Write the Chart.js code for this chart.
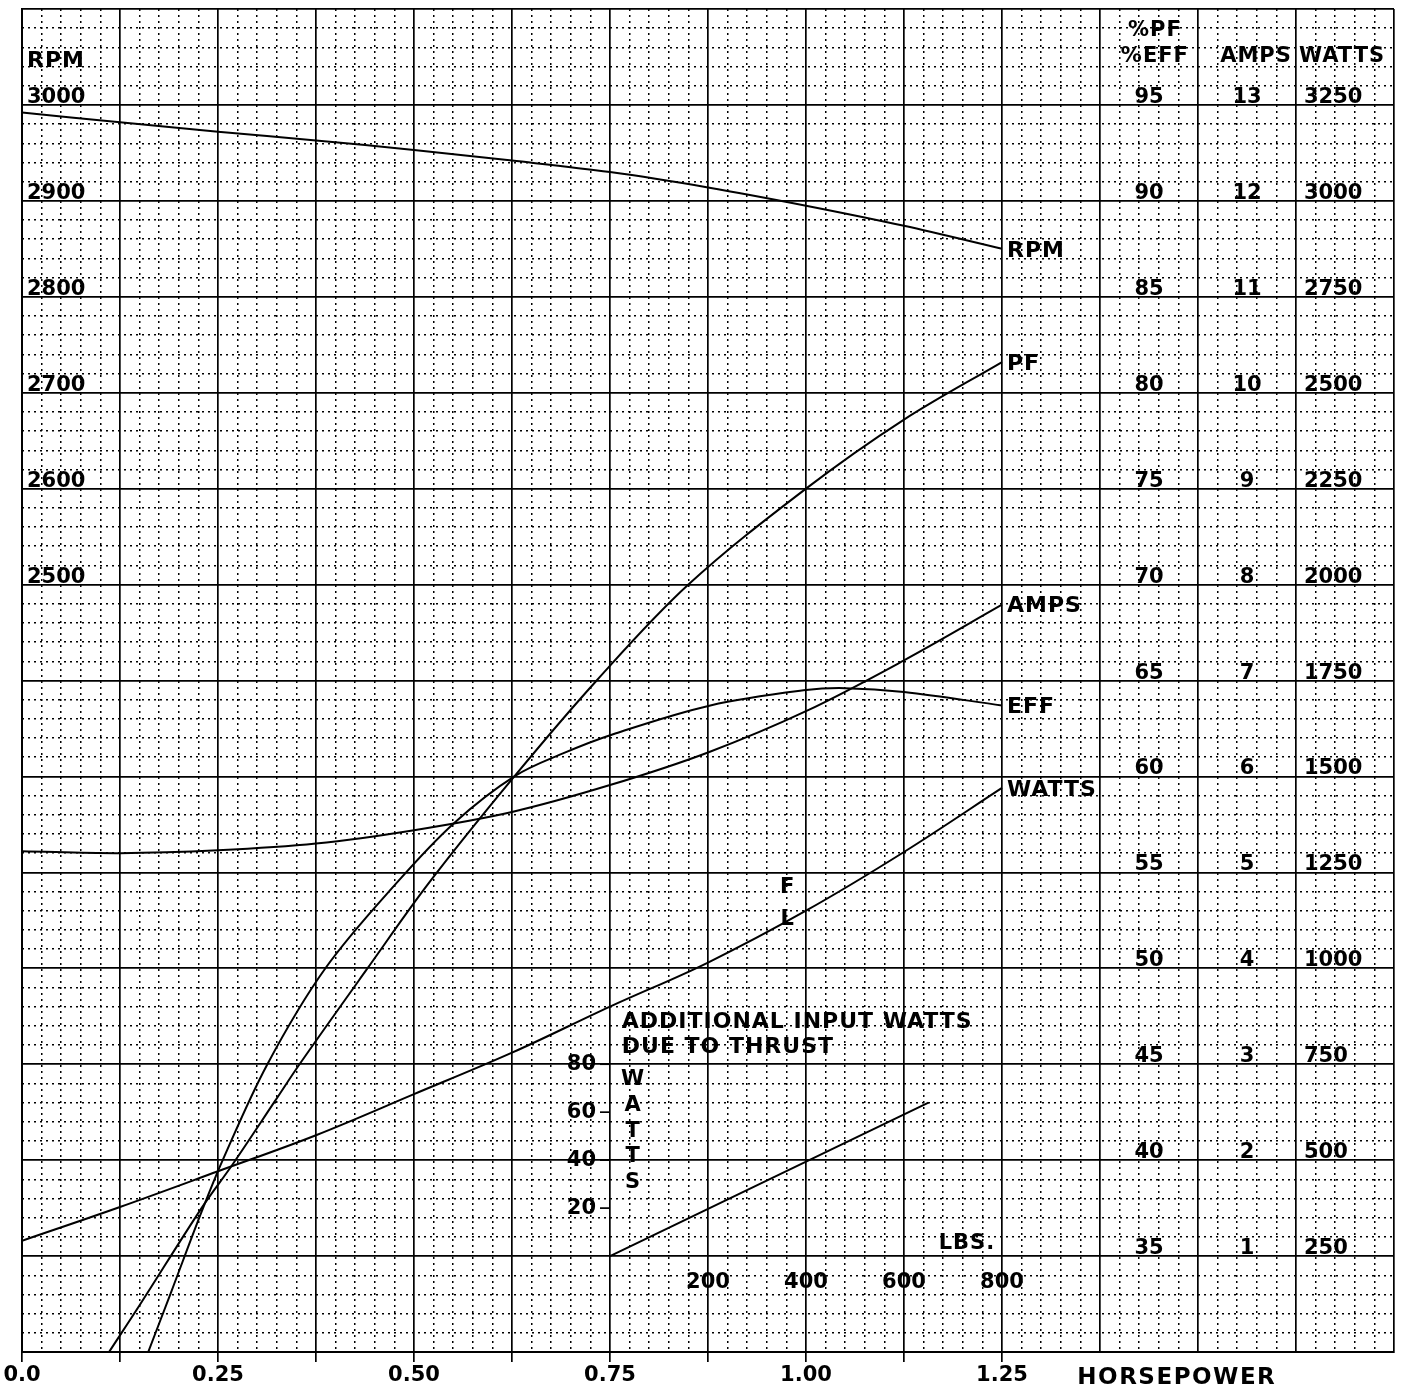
<!DOCTYPE html>
<html>
<head>
<meta charset="utf-8">
<title>Motor performance curves</title>
<script src="https://cdn.jsdelivr.net/npm/chart.js@4.4.1/dist/chart.umd.min.js"></script>
<style>
  html, body { margin: 0; padding: 0; background: #fff; }
  canvas { display: block; }
</style>
</head>
<body>
<canvas id="perfChart" width="1415" height="1390"></canvas>
<script>
// horsepower axis labels
const hpLabelValues = [0, 0.25, 0.5, 0.75, 1.0, 1.25];
const hpLabelText = ['0.0', '0.25', '0.50', '0.75', '1.00', '1.25'];

// scale labels written on the grid
const rpmLabels = [3000, 2900, 2800, 2700, 2600, 2500];
const pctLabels = [95, 90, 85, 80, 75, 70, 65, 60, 55, 50, 45, 40, 35];
const ampLabels = [13, 12, 11, 10, 9, 8, 7, 6, 5, 4, 3, 2, 1];
const wattLabels = [3250, 3000, 2750, 2500, 2250, 2000, 1750, 1500, 1250, 1000, 750, 500, 250];

// curves, x = horsepower
const rpmHp = [0, 0.125, 0.25, 0.375, 0.5, 0.625, 0.75, 0.875, 1.0, 1.125, 1.25];
const rpmValues = [2992, 2982, 2972, 2963, 2953, 2942, 2930, 2914, 2895, 2874, 2850];

const pfHp = [0.111, 0.151, 0.229, 0.269, 0.323, 0.354, 0.439, 0.52, 0.628, 0.733, 0.85, 1.0, 1.125, 1.25];
const pfValues = [30, 32.5, 37.5, 39.8, 43.1, 45.0, 49.9, 54.5, 60, 65, 70, 75, 78.6, 81.6];

const effHp = [0.161, 0.19, 0.229, 0.256, 0.313, 0.387, 0.479, 0.552, 0.628, 0.69, 0.754, 0.878, 1.0, 1.05, 1.125, 1.25];
const effValues = [30, 33.1, 37.3, 40.0, 45.0, 50.0, 54.5, 57.6, 60, 61.2, 62.2, 63.7, 64.5, 64.6, 64.4, 63.7];

const ampHp = [0, 0.125, 0.25, 0.375, 0.5, 0.625, 0.75, 0.875, 1.0, 1.125, 1.25];
const ampValues = [5.22, 5.2, 5.23, 5.3, 5.44, 5.63, 5.91, 6.25, 6.68, 7.21, 7.79];

const wattHp = [0, 0.125, 0.25, 0.375, 0.5, 0.625, 0.75, 0.875, 1.0, 1.125, 1.25];
const wattValues = [290, 378, 471, 565, 672, 780, 900, 1015, 1150, 1303, 1470];

// thrust inset
const thrustLbs = [0, 650];
const thrustWatts = [0, 64];
const lbsLabels = [200, 400, 600, 800];
const thrustWattLabels = [80, 60, 40, 20];

const curveNames = ['RPM', 'PF', 'AMPS', 'EFF', 'WATTS'];

const FONT = 'DejaVu Sans';
const pts = (xs, ys) => xs.map((x, i) => ({ x: x, y: ys[i] }));
const onStep = (v, step) => Math.abs(v / step - Math.round(v / step)) < 1e-6;

function curve(label, xs, ys, yAxisID, xAxisID) {
    return {
        label: label,
        data: pts(xs, ys),
        xAxisID: xAxisID || 'x',
        yAxisID: yAxisID,
        borderColor: '#000',
        borderWidth: 2,
        pointRadius: 0,
        fill: false,
        tension: 0.35
    };
}

const chartText = {
    id: 'chartText',
    afterDraw(chart) {
        const ctx = chart.ctx;
        const s = chart.scales;
        const put = (str, x, y, align, base, size, spacing) => {
            ctx.save();
            ctx.font = 'bold ' + size + 'px "' + FONT + '"';
            ctx.fillStyle = '#000';
            ctx.textAlign = align;
            ctx.textBaseline = base;
            ctx.letterSpacing = (spacing || 0) + 'px';
            ctx.fillText(str, x, y);
            ctx.restore();
        };

        // left rpm scale
        const left = s.x.getPixelForValue(0) + 5;
        put('RPM', left, s.y.getPixelForValue(3040), 'left', 'alphabetic', 22, 1);
        rpmLabels.forEach(r => put(String(r), left, s.y.getPixelForValue(r) - 2, 'left', 'alphabetic', 21));

        // right scales
        put('%PF', s.x.getPixelForValue(1.445), s.yPct.getPixelForValue(98.6), 'center', 'alphabetic', 21, 1);
        put('%EFF', s.x.getPixelForValue(1.445), s.yPct.getPixelForValue(97.25), 'center', 'alphabetic', 21, 1);
        put('AMPS', s.x.getPixelForValue(1.574), s.yPct.getPixelForValue(97.25), 'center', 'alphabetic', 21, 1);
        put('WATTS', s.x.getPixelForValue(1.625) + 3, s.yPct.getPixelForValue(97.25), 'left', 'alphabetic', 21, 1);
        pctLabels.forEach(p => put(String(p), s.x.getPixelForValue(1.4375), s.yPct.getPixelForValue(p) - 2, 'center', 'alphabetic', 21));
        ampLabels.forEach(a => put(String(a), s.x.getPixelForValue(1.5625), s.yAmp.getPixelForValue(a) - 2, 'center', 'alphabetic', 21));
        wattLabels.forEach(w => put(String(w), s.x.getPixelForValue(1.625) + 8, s.yWatt.getPixelForValue(w) - 2, 'left', 'alphabetic', 21));

        // curve names at the end of each curve
        curveNames.forEach((name, i) => {
            const pts = chart.getDatasetMeta(i).data;
            const end = pts[pts.length - 1];
            put(name, end.x + 5, end.y + 2, 'left', 'middle', 22, 1);
        });

        // full load mark
        put('F', s.x.getPixelForValue(0.976), s.yPct.getPixelForValue(54.2), 'center', 'middle', 21);
        put('L', s.x.getPixelForValue(0.976), s.yPct.getPixelForValue(52.55), 'center', 'middle', 21);

        // thrust inset
        const x0 = s.xL.getPixelForValue(0);
        put('ADDITIONAL INPUT WATTS', s.xL.getPixelForValue(24), s.yT.getPixelForValue(95), 'left', 'alphabetic', 22, 1);
        put('DUE TO THRUST', s.xL.getPixelForValue(24), s.yT.getPixelForValue(84.6), 'left', 'alphabetic', 22, 1);
        'WATTS'.split('').forEach((ch, i) => put(ch, s.xL.getPixelForValue(46), s.yT.getPixelForValue(73.5 - i * 10.7), 'center', 'middle', 21));
        put('LBS.', s.xL.getPixelForValue(786), s.yT.getPixelForValue(3), 'right', 'alphabetic', 21, 1);
        lbsLabels.forEach(l => put(String(l), s.xL.getPixelForValue(l), s.yT.getPixelForValue(-11), 'center', 'middle', 21));
        thrustWattLabels.forEach(w => {
            const y = s.yT.getPixelForValue(w);
            put(String(w), x0 - 14, y, 'right', 'middle', 21);
            ctx.save();
            ctx.strokeStyle = '#000';
            ctx.lineWidth = 1.7;
            ctx.beginPath();
            ctx.moveTo(x0 - 10, y);
            ctx.lineTo(x0, y);
            ctx.stroke();
            ctx.restore();
        });

        // axis title
        put('HORSEPOWER', s.x.getPixelForValue(1.473), chart.chartArea.bottom + 26, 'center', 'middle', 23, 1.5);
    }
};

const ctx = document.getElementById('perfChart').getContext('2d');

new Chart(ctx, {
    type: 'line',
    data: {
        datasets: [
            curve('RPM', rpmHp, rpmValues, 'y'),
            curve('PF', pfHp, pfValues, 'yPct'),
            curve('AMPS', ampHp, ampValues, 'yAmp'),
            curve('EFF', effHp, effValues, 'yPct'),
            curve('WATTS', wattHp, wattValues, 'yWatt'),
            curve('Thrust', thrustLbs, thrustWatts, 'yT', 'xL')
        ]
    },
    options: {
        responsive: false,
        animation: false,
        layout: { padding: { top: 9, left: 22, right: 21, bottom: 0 } },
        plugins: {
            legend: { display: false },
            tooltip: { enabled: false }
        },
        scales: {
            x: {
                type: 'linear', position: 'bottom', min: 0, max: 1.75,
                afterFit: sc => { sc.height = 38; },
                ticks: {
                    stepSize: 0.125, autoSkip: false, maxRotation: 0, padding: 1, color: '#000',
                    font: { family: FONT, size: 21, weight: 'bold' },
                    callback: v => {
                        const i = hpLabelValues.findIndex(h => Math.abs(h - v) < 1e-6);
                        return i < 0 ? '' : hpLabelText[i];
                    }
                },
                grid: {
                    color: '#000', lineWidth: 1.7, tickLength: 10, tickWidth: 1.7,
                    tickColor: c => (c.tick && c.tick.value <= 1.25 + 1e-6) ? '#000' : 'rgba(0,0,0,0)'
                },
                border: { display: true, color: '#000', width: 2 }
            },
            xMinor: {
                type: 'linear', axis: 'x', position: 'bottom', min: 0, max: 1.75,
                afterFit: sc => { sc.height = 0; },
                ticks: { display: false, stepSize: 0.025, autoSkip: false },
                grid: {
                    drawTicks: false, lineWidth: 1.5,
                    color: c => onStep(c.tick.value, 0.125) ? 'rgba(0,0,0,0)' : '#000'
                },
                border: { display: false, dash: [2, 4] }
            },
            y: {
                type: 'linear', position: 'left', min: 1700, max: 3100,
                afterFit: sc => { sc.width = 0; },
                ticks: { display: false, stepSize: 100 },
                grid: { color: '#000', lineWidth: 1.7, drawTicks: false },
                border: { display: true, color: '#000', width: 2 }
            },
            yMinor: {
                type: 'linear', axis: 'y', position: 'left', min: 1700, max: 3100,
                afterFit: sc => { sc.width = 0; },
                ticks: { display: false, stepSize: 20 },
                grid: {
                    drawTicks: false, lineWidth: 1.5,
                    color: c => onStep(c.tick.value, 100) ? 'rgba(0,0,0,0)' : '#000'
                },
                border: { display: false, dash: [2, 4] }
            },
            yPct: { type: 'linear', axis: 'y', display: false, min: 30, max: 100 },
            yAmp: { type: 'linear', axis: 'y', display: false, min: 0, max: 14 },
            yWatt: { type: 'linear', axis: 'y', display: false, min: 0, max: 3500 },
            xL: { type: 'linear', axis: 'x', display: false, min: -1200, max: 1600 },
            yT: { type: 'linear', axis: 'y', display: false, min: -40, max: 520 }
        }
    },
    plugins: [chartText]
});
</script>
</body>
</html>
